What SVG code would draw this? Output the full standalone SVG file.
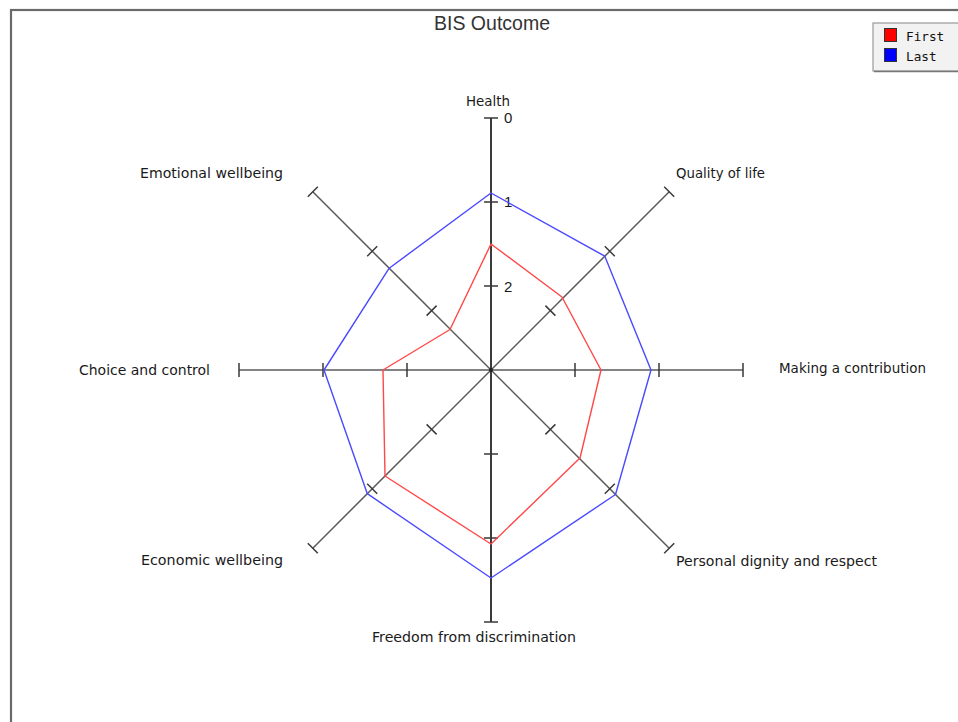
<svg xmlns="http://www.w3.org/2000/svg" width="958" height="722" viewBox="0 0 958 722">
<style>
.lbl{font-family:"DejaVu Sans","Liberation Sans",sans-serif;font-size:14px;fill:#1a1a1a}
.num{font-family:"Liberation Sans",Arial,sans-serif;font-size:15px;fill:#1a1a1a}
.axis{stroke:#5a5a5a;stroke-width:1.5;fill:none}
.axm{stroke:#3a3a3a;stroke-width:2;fill:none}
.tick{stroke:#3a3a3a;stroke-width:1.5;fill:none}
.first{stroke:#ff4848;stroke-width:1.4;fill:none;stroke-linejoin:round}
.last{stroke:#4a4aff;stroke-width:1.4;fill:none;stroke-linejoin:round}
.leg{font-family:"DejaVu Sans Mono","Liberation Mono",monospace;font-size:12.7px;fill:#111}
</style>
<rect x="0" y="0" width="958" height="722" fill="#ffffff"/>
<rect id="frame" x="11" y="10" width="960" height="730" fill="none" stroke="#6a6a6a" stroke-width="2.2"/>
<text id="title" x="492" y="30" text-anchor="middle" font-family="Liberation Sans, Arial, sans-serif" font-size="21" fill="#333" textLength="116" lengthAdjust="spacingAndGlyphs">BIS Outcome</text>

<g id="legend">
<rect x="873" y="23" width="90" height="48" fill="#f2f2f2" stroke="#9a9a9a" stroke-width="1.2"/>
<line x1="874" y1="71.5" x2="960" y2="71.5" stroke="#777" stroke-width="1.5"/>
<rect x="884.5" y="28.5" width="12" height="13" fill="#ff0000" stroke="#333" stroke-width="1"/>
<text class="leg" x="906" y="41">First</text>
<rect x="884.5" y="48.5" width="12" height="13" fill="#0000ff" stroke="#333" stroke-width="1"/>
<text class="leg" x="906" y="61">Last</text>
</g>

<g id="axes">
<line class="axm" x1="491" y1="118" x2="491" y2="622"/>
<line class="axis" x1="239" y1="370" x2="743" y2="370"/>
<line class="axis" x1="312.8" y1="191.8" x2="669.2" y2="548.2"/>
<line class="axis" x1="669.2" y1="191.8" x2="312.8" y2="548.2"/>
<circle cx="491" cy="370" r="2" fill="#222"/>
</g>

<g id="ticks">
<path class="tick" d="M484 118h14M484 202h14M484 286h14M484 454h14M484 538h14M484 622h14"/>
<path class="tick" d="M239 363v14M323 363v14M407 363v14M575 363v14M659 363v14M743 363v14"/>
<path class="tick" d="M545.4 305.6l10 10M604.8 246.2l10 10M664.2 186.8l10 10M426.6 424.4l10 10M367.2 483.8l10 10M307.8 543.2l10 10"/>
<path class="tick" d="M545.4 434.4l10 -10M604.8 493.8l10 -10M664.2 553.2l10 -10M426.6 315.6l10 -10M367.2 256.2l10 -10M307.8 196.8l10 -10"/>
</g>

<g id="scale">
<text class="num" x="504" y="123">0</text>
<text class="num" x="504" y="207">1</text>
<text class="num" x="504" y="291.5">2</text>
</g>

<g id="series">
<polygon id="last" class="last" points="491,193 604.8,256.2 651,370 615.5,494.5 491,578 367.3,493.7 324,370 389.2,268.2"/>
<polygon id="first" class="first" points="491,244 562,297 601,370 580,458 491,544 385,476 383,370 450,329.5"/>
</g>

<g id="labels">
<text class="lbl" x="466" y="105.5" textLength="44" lengthAdjust="spacingAndGlyphs">Health</text>
<text class="lbl" x="676" y="178" textLength="89" lengthAdjust="spacingAndGlyphs">Quality of life</text>
<text class="lbl" x="140" y="178" textLength="143" lengthAdjust="spacingAndGlyphs">Emotional wellbeing</text>
<text class="lbl" x="79" y="375" textLength="131" lengthAdjust="spacingAndGlyphs">Choice and control</text>
<text class="lbl" x="779" y="373" textLength="147" lengthAdjust="spacingAndGlyphs">Making a contribution</text>
<text class="lbl" x="141" y="565" textLength="142" lengthAdjust="spacingAndGlyphs">Economic wellbeing</text>
<text class="lbl" x="676" y="566" textLength="201" lengthAdjust="spacingAndGlyphs">Personal dignity and respect</text>
<text class="lbl" x="372" y="642" textLength="204" lengthAdjust="spacingAndGlyphs">Freedom from discrimination</text>
</g>
</svg>
